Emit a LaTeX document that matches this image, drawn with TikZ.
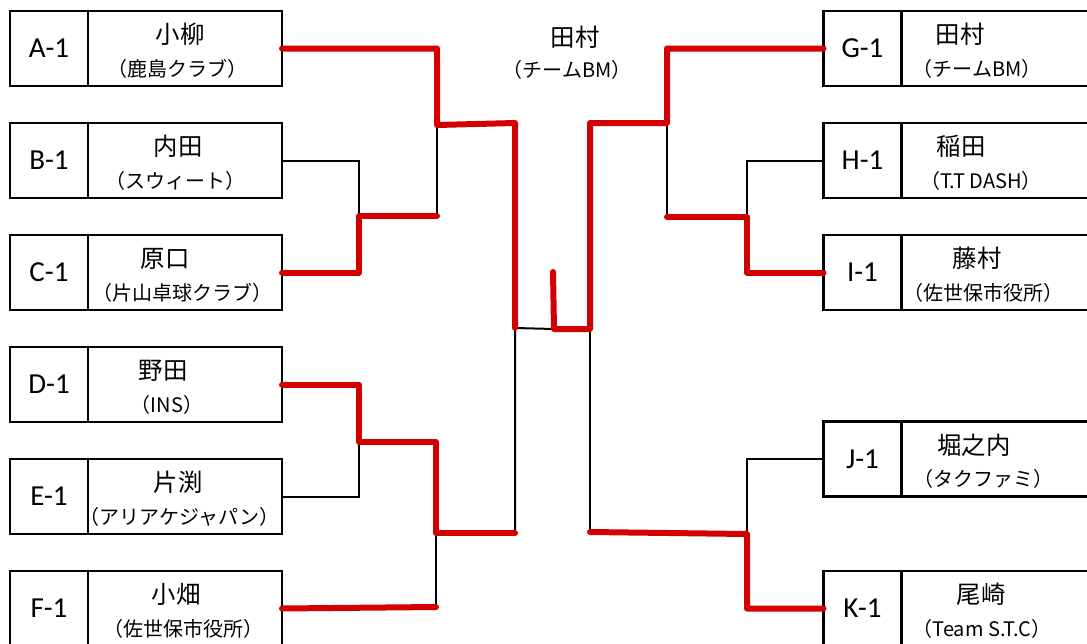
\documentclass[tikz,border=0pt]{standalone}
\usepackage{fontspec}
\setmainfont{Carlito}
\newfontfamily\jpfont{Noto Sans CJK JP}
\usetikzlibrary{positioning}
\definecolor{winred}{RGB}{210,0,0}

\tikzset{
  idcell/.style = {draw, line width=1.3pt, minimum width=39pt, minimum height=37.5pt,
    inner sep=0pt, outer sep=0pt, font=\fontsize{14.5}{16}\selectfont},
  namecell/.style = {draw, line width=1.3pt, minimum width=97pt, minimum height=37.5pt,
    inner sep=0pt, outer sep=0pt},
  player/.style = {font=\jpfont\fontsize{12.2}{14}\selectfont, inner sep=0pt},
  club/.style = {font=\jpfont\fontsize{10}{12}\selectfont, inner sep=0pt},
  bline/.style = {line width=1pt},
  winline/.style = {winred, line width=3pt, line cap=round, line join=round}
}

\begin{document}
\begin{tikzpicture}[x=0.5pt, y=-0.5pt]
  \useasboundingbox (0,0) rectangle (1087,643);
  \clip (0,0) rectangle (1087,643);

  \foreach \id/\y/\nm/\cl/\nx/\cx in {A/48.5/小柳/（鹿島クラブ）/180/177,
      B/160.5/内田/（スウィート）/178/175,
      C/272.5/原口/（片山卓球クラブ）/165/182,
      D/384.5/野田/（INS）/163/167,
      E/496.5/片渕/（アリアケジャパン）/178/179,
      F/608.5/小畑/（佐世保市役所）/176/183}
  {
    \node[idcell] (\id) at (49,\y) {\id-1};
    \node[namecell, right=0pt of \id] (n\id) {};
    \node[player] (p\id) at (\nx,{\y-14}) {\nm};
    \node[club] (c\id) at (\cx,{\y+20}) {\cl};
  }

  \foreach \id/\y/\nm/\cl/\nx/\cx in {G/48.5/田村/（チームBM）/960/977,
      H/160.5/稲田/（T.T DASH）/961/981,
      I/272.5/藤村/（佐世保市役所）/977/983,
      J/459/堀之内/（タクファミ）/974/983,
      K/608.5/尾崎/（Team S.T.C）/981/982}
  {
    \node[idcell] (\id) at (862.5,\y) {\id-1};
    \node[namecell, right=0pt of \id] (n\id) {};
    \node[player] (p\id) at (\nx,{\y-14}) {\nm};
    \node[club] (c\id) at (\cx,{\y+20}) {\cl};
  }

  \node[player] (champ) at (575,37) {田村};
  \node[club] (champclub) at (567,70) {（チームBM）};

  \coordinate (jBC) at (359,216);
  \coordinate (jBCo) at (437,216);
  \coordinate (jA) at (437,125);
  \coordinate (jL1) at (515,123);
  \coordinate (jL) at (515,328);
  \coordinate (jDE) at (359,442);
  \coordinate (jDEo) at (436,442);
  \coordinate (jDF) at (436,533);
  \coordinate (jF) at (436,607);
  \coordinate (jL2) at (515,533);
  \coordinate (jStub) at (553,272);
  \coordinate (jStubB) at (554,329);
  \coordinate (jR) at (590,329);
  \coordinate (jR1) at (590,123);
  \coordinate (jG) at (667,123);
  \coordinate (jGo) at (667,217);
  \coordinate (jHI) at (747,217);
  \coordinate (jR2) at (590,532);
  \coordinate (jJK) at (747,534);

  \begin{scope}[bline]
    \draw (nB.east) -| (jBC);
    \draw (jBCo) -- (jA);
    \draw (nE.east) -| (jDE);
    \draw (jDF) -- (jF);
    \draw (jL2) -- (jL) -- (jStubB);
    \draw (jR) -- (jR2);
    \draw (jG) -- (jGo);
    \draw (H.west) -| (jHI);
    \draw (J.west) -| (jJK);
  \end{scope}

  \begin{scope}[winline]
    \draw (nA.east) -| (jA) -- (jL1) -- (jL);
    \draw (nC.east) -| (jBC) -- (jBCo);
    \draw (nD.east) -| (jDE) -- (jDEo) -- (jDF) -- (jL2);
    \draw (nF.east) -- (jF);
    \draw (jStub) -- (jStubB) -- (jR) -- (jR1) -- (jG) |- (G.west);
    \draw (jGo) -- (jHI) |- (I.west);
    \draw (jR2) -- (jJK) |- (K.west);
  \end{scope}
\end{tikzpicture}
\end{document}
